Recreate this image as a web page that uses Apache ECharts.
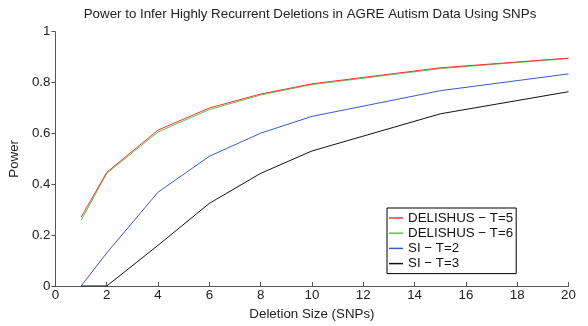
<!DOCTYPE html>
<html>
<head>
<meta charset="utf-8">
<script src="https://cdn.jsdelivr.net/npm/echarts@6/dist/echarts.min.js"></script>
<style>
html,body{margin:0;padding:0;background:#fff;}
#chart{width:588px;height:326px;}
</style>
</head>
<body>
<div id="chart"></div>
<script>
var deletionSizes = [1, 2, 4, 6, 8, 10, 15, 20];
var delishusT5 = [0.270, 0.447, 0.613, 0.700, 0.755, 0.795, 0.858, 0.896];
var delishusT6 = [0.258, 0.443, 0.606, 0.694, 0.751, 0.792, 0.855, 0.895];
var siT2 = [0.000, 0.130, 0.369, 0.510, 0.601, 0.667, 0.768, 0.834];
var siT3 = [0.000, 0.000, 0.160, 0.325, 0.443, 0.531, 0.677, 0.764];
var seriesNames = ['DELISHUS \u2212 T=5', 'DELISHUS \u2212 T=6', 'SI \u2212 T=2', 'SI \u2212 T=3'];
var seriesColors = ['#e83a3a', '#66c04a', '#3a58c8', '#111111'];
var titleText = 'Power to Infer Highly Recurrent Deletions in AGRE Autism Data Using SNPs';
var xAxisTitle = 'Deletion Size (SNPs)';
var yAxisTitle = 'Power';

function pairs(ys) {
  return deletionSizes.map(function (x, i) { return [x, ys[i]]; });
}
var allValues = [delishusT5, delishusT6, siT2, siT3];
var font = 'Liberation Sans, Arial, sans-serif';
var fs = 13.33;
var axisColor = '#555';
var textColor = '#222';

var chart = echarts.init(document.getElementById('chart'), null, {renderer: 'canvas'});
chart.setOption({
  animation: false,
  backgroundColor: '#fff',
  title: {
    text: titleText,
    left: 310,
    top: 8,
    textAlign: 'center',
    padding: 0,
    textStyle: {fontFamily: font, fontSize: fs, fontWeight: 'normal', color: textColor}
  },
  grid: {left: 50, right: 19.5, top: 31.7, bottom: 29.3, containLabel: false},
  xAxis: {
    type: 'value', min: 0, max: 20, interval: 2,
    name: xAxisTitle, nameLocation: 'middle', nameGap: 22,
    nameTextStyle: {fontFamily: font, fontSize: fs, color: textColor},
    axisLine: {lineStyle: {color: axisColor, width: 1}},
    axisTick: {inside: true, length: 4, lineStyle: {color: axisColor}},
    axisLabel: {fontFamily: font, fontSize: fs, color: textColor, margin: 3},
    splitLine: {show: false}
  },
  yAxis: {
    type: 'value', min: 0, max: 1, interval: 0.2,
    name: yAxisTitle, nameLocation: 'middle', nameGap: 29,
    nameTextStyle: {fontFamily: font, fontSize: fs, color: textColor},
    axisLine: {show: true, lineStyle: {color: axisColor, width: 1}},
    axisTick: {show: true, inside: false, length: 4, lineStyle: {color: axisColor}},
    axisLabel: {fontFamily: font, fontSize: fs, color: textColor, margin: 5},
    splitLine: {show: false}
  },
  legend: {
    orient: 'vertical',
    left: 387, top: 208,
    padding: [3.5, 3, 3.5, 2],
    itemGap: 2.2,
    itemWidth: 14, itemHeight: 1.5,
    icon: 'rect',
    backgroundColor: '#fff',
    borderColor: '#000', borderWidth: 1, borderRadius: 0,
    textStyle: {fontFamily: font, fontSize: fs, color: '#111'},
    data: seriesNames
  },
  series: seriesNames.map(function (name, i) {
    return {
      name: name, type: 'line', data: pairs(allValues[i]),
      symbol: 'none', showSymbol: false,
      lineStyle: {color: seriesColors[i], width: 1},
      itemStyle: {color: seriesColors[i]},
      z: 2 + (i === 0 ? 1 : 0)
    };
  })
});
</script>
</body>
</html>
